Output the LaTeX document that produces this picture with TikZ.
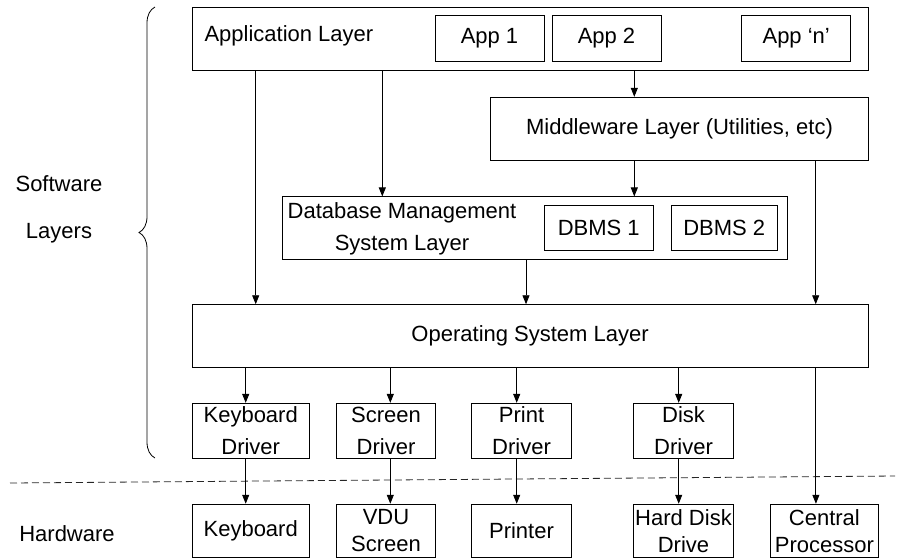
\documentclass[tikz,border=0pt]{standalone}
\usepackage{fontspec}
\setmainfont{Liberation Sans}
\usetikzlibrary{arrows.meta}
\usetikzlibrary{decorations.pathreplacing}
\usetikzlibrary{positioning}

\tikzset{
  layerbox/.style={draw, line width=0.9pt, inner sep=0pt, minimum height=63pt},
  appbox/.style={draw, line width=0.9pt, inner sep=0pt, minimum height=45.5pt},
  drvbox/.style={draw, line width=0.9pt, inner sep=0pt, align=center, minimum height=55pt},
  hwbox/.style={draw, line width=0.9pt, inner sep=0pt, align=center, minimum height=53pt,
    font=\fontsize{22}{27}\selectfont},
  arr/.style={-{Triangle[length=9pt,width=7pt]}, line width=0.9pt},
}

\begin{document}
\begin{tikzpicture}[x=1pt,y=-1pt,font=\fontsize{22}{32}\selectfont]
\useasboundingbox (0,0) rectangle (901,558);

%Software: application layer
\node[layerbox, minimum width=676.3pt] (app) at (530.1,39.1) {};
\node[anchor=west] (applbl) at (201,36) {Application Layer};
\node[appbox, minimum width=109pt] (app1) at (489.5,38.5) {App 1};
\node[appbox, minimum width=109pt] (app2) at (606.5,38.5) {App 2};
\node[appbox, minimum width=109pt] (appn) at (796.2,38.5) {App `n'};

%middleware
\node[layerbox, minimum width=377.6pt] (mid) at (679.5,128.8) {Middleware Layer (Utilities, etc)};

%dbms layer
\node[layerbox, minimum width=504.6pt] (dbms) at (535,228.4) {};
\node[align=center] (dbmslbl) at (402,229) {Database Management\\System Layer};
\node[appbox, minimum width=108.7pt] (dbms1) at (598.7,228) {DBMS 1};
\node[appbox, minimum width=106.3pt] (dbms2) at (724.2,228) {DBMS 2};

%operating system
\node[layerbox, minimum width=676.3pt] (os) at (530.1,336.2) {Operating System Layer};

%drivers
\node[drvbox, minimum width=117.3pt] (kd) at (250.7,430.8) {Keyboard\\Driver};
\node[drvbox, minimum width=98.6pt] (sd) at (386,430.8) {Screen\\Driver};
\node[drvbox, minimum width=100.4pt] (pd) at (521.5,430.8) {Print\\Driver};
\node[drvbox, minimum width=100.4pt] (dd) at (683.5,430.8) {Disk\\Driver};

%Hardware
\node[hwbox, minimum width=117.3pt, below=45pt of kd] (kb) {Keyboard};
\node[hwbox, minimum width=98.6pt, below=45pt of sd] (vdu) {VDU\\Screen};
\node[hwbox, minimum width=100.4pt, below=45pt of pd] (prn) {Printer};
\node[hwbox, minimum width=100.4pt, below=45pt of dd] (hd) {Hard Disk\\Drive};
\node[hwbox, minimum width=108.4pt, right=35.6pt of hd] (cpu) {Central\\Processor};

% side labels
\node[align=center] (sw) at (59,209) {Software\\[15pt]Layers};
\node (hw) at (67,534) {Hardware};
\draw[decorate, decoration={brace, amplitude=16pt}, line width=0.8pt] (155,458) -- (155,7);
\draw[dashed, dash pattern=on 7pt off 4pt, line width=0.8pt, black!85] (10,483) -- (895,476);

% calls
\draw[arr] ([xshift=-274.4pt]app.south) -- ([xshift=-274.4pt]app.south |- os.north);
\draw[arr] ([xshift=-147.8pt]app.south) -- ([xshift=-147.8pt]app.south |- dbms.north);
\draw[arr] ([xshift=104.2pt]app.south) -- ([xshift=104.2pt]app.south |- mid.north);
\draw[arr] ([xshift=-45.2pt]mid.south) -- ([xshift=-45.2pt]mid.south |- dbms.north);
\draw[arr] ([xshift=136.2pt]mid.south) -- ([xshift=136.2pt]mid.south |- os.north);
\draw[arr] ([xshift=-9pt]dbms.south) -- ([xshift=-9pt]dbms.south |- os.north);

\draw[arr] ([xshift=-5pt]kd.north |- os.south) -- ([xshift=-5pt]kd.north);
\draw[arr] ([xshift=4.3pt]sd.north |- os.south) -- ([xshift=4.3pt]sd.north);
\draw[arr] ([xshift=-4.8pt]pd.north |- os.south) -- ([xshift=-4.8pt]pd.north);
\draw[arr] ([xshift=-4.8pt]dd.north |- os.south) -- ([xshift=-4.8pt]dd.north);

\draw[arr] ([xshift=-5pt]kd.south) -- ([xshift=-5pt]kb.north);
\draw[arr] ([xshift=4.3pt]sd.south) -- ([xshift=4.3pt]vdu.north);
\draw[arr] ([xshift=-4.8pt]pd.south) -- ([xshift=-4.8pt]prn.north);
\draw[arr] ([xshift=-4.8pt]dd.south) -- ([xshift=-4.8pt]hd.north);
\draw[arr] ([xshift=-8.5pt]cpu.north |- os.south) -- ([xshift=-8.5pt]cpu.north);
\end{tikzpicture}
\end{document}
